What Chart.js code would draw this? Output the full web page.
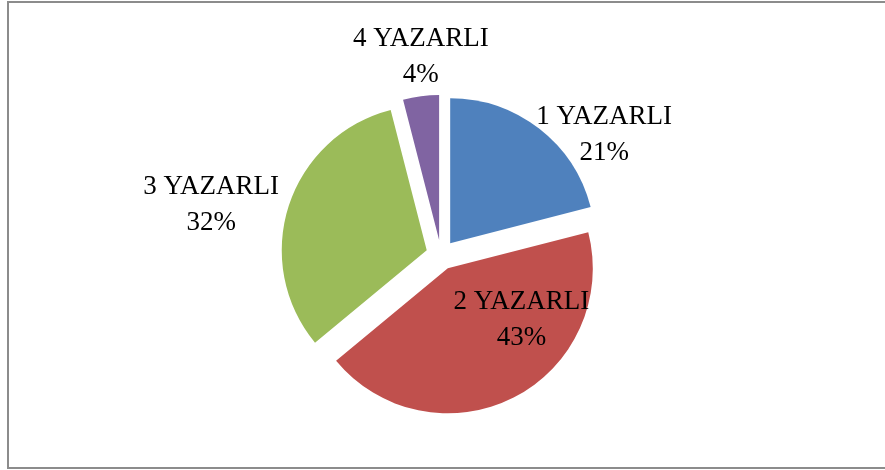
<!DOCTYPE html>
<html>
<head>
<meta charset="utf-8">
<script src="https://cdn.jsdelivr.net/npm/chart.js@4/dist/chart.umd.min.js"></script>
<style>
  html, body { margin: 0; padding: 0; background: #fff; overflow: hidden; }
  #wrap { position: relative; width: 885px; height: 470px; overflow: hidden; }
  #frame {
    position: absolute; left: 7px; top: 1px; width: 890px; height: 464px;
    border: 2px solid #8c8c8c; box-sizing: content-box;
  }
  canvas { position: absolute; left: 0; top: 0; }
</style>
</head>
<body>
<div id="wrap">
  <div id="frame"></div>
  <canvas id="pieChart" width="885" height="470"></canvas>
</div>
<script>
// Author count shares (percent)
const categories = ['1 YAZARLI', '2 YAZARLI', '3 YAZARLI', '4 YAZARLI'];
const shares = [21, 43, 32, 4];
const sliceColors = ['#4f81bd', '#c0504d', '#9bbb59', '#8064a2'];

// Pull every slice out from the centre by the same distance
// (done by hand because the built-in offset also grows narrow slices)
const explodePlugin = {
    id: 'explode',
    beforeDatasetDraw: function(chart, args, opts) {
        const meta = chart.getDatasetMeta(args.index);
        meta.data.forEach(function(arc) {
            if (arc._exploded) return;
            const origDraw = arc.draw;
            arc.draw = function(ctx) {
                const mid = (this.startAngle + this.endAngle) / 2;
                ctx.save();
                ctx.translate(Math.cos(mid) * opts.distance, Math.sin(mid) * opts.distance);
                origDraw.call(this, ctx);
                ctx.restore();
            };
            arc._exploded = true;
        });
    }
};

// Two line labels: name and percent, placed roughly where Excel put them
const sliceLabelPlugin = {
    id: 'sliceLabels',
    afterDatasetsDraw: function(chart, args, opts) {
        const ctx = chart.ctx;
        const meta = chart.getDatasetMeta(0);
        // angle shift (deg) from the slice middle, distance as share of the radius
        const place = [[17, 1.30], [-28, 0.62], [-6, 1.52], [1.5, 1.27]];
        ctx.save();
        ctx.font = opts.font;
        ctx.fillStyle = '#000';
        ctx.textAlign = 'center';
        ctx.textBaseline = 'middle';
        meta.data.forEach(function(arc, i) {
            const p = arc.getProps(['x', 'y', 'startAngle', 'endAngle', 'outerRadius'], true);
            const mid = (p.startAngle + p.endAngle) / 2;
            const cx = p.x + Math.cos(mid) * opts.distance;
            const cy = p.y + Math.sin(mid) * opts.distance;
            const a = mid + place[i][0] * Math.PI / 180;
            const tx = cx + Math.cos(a) * p.outerRadius * place[i][1];
            const ty = cy + Math.sin(a) * p.outerRadius * place[i][1];
            ctx.fillText(categories[i], tx, ty - 18);
            ctx.fillText(shares[i] + '%', tx, ty + 18);
        });
        ctx.restore();
    }
};

new Chart(document.getElementById('pieChart').getContext('2d'), {
    type: 'pie',
    data: {
        labels: categories,
        datasets: [{
            data: shares,
            backgroundColor: sliceColors,
            borderWidth: 0,
            clip: false
        }]
    },
    options: {
        responsive: false,
        animation: false,
        layout: {
            padding: { top: 110, bottom: 70, left: 296, right: 299 }
        },
        plugins: {
            legend: { display: false },
            tooltip: { enabled: false },
            explode: { distance: 15 },
            sliceLabels: { distance: 15, font: '27px "Liberation Serif", serif' }
        }
    },
    plugins: [explodePlugin, sliceLabelPlugin]
});
</script>
</body>
</html>
